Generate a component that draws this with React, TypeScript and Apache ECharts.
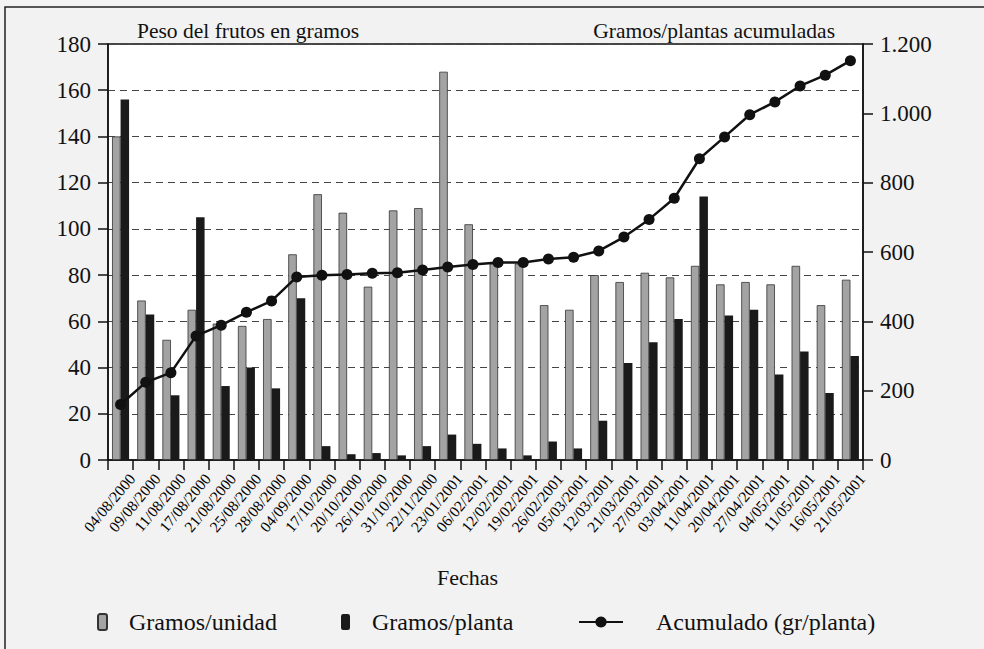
import React, { useEffect, useRef } from "react";
import * as echarts from "echarts";

const categories = [
  "04/08/2000", "09/08/2000", "11/08/2000", "17/08/2000", "21/08/2000", "25/08/2000",
  "28/08/2000", "04/09/2000", "17/10/2000", "20/10/2000", "26/10/2000", "31/10/2000",
  "22/11/2000", "23/01/2001", "06/02/2001", "12/02/2001", "19/02/2001", "26/02/2001",
  "05/03/2001", "12/03/2001", "21/03/2001", "27/03/2001", "03/04/2001", "11/04/2001",
  "20/04/2001", "27/04/2001", "04/05/2001", "11/05/2001", "16/05/2001", "21/05/2001",
];

const gramosUnidad = [
  140, 69, 52, 65, 59, 58, 61, 89, 115, 107, 75, 108, 109, 168, 102,
  85, 85, 67, 65, 80, 77, 81, 79, 84, 76, 77, 76, 84, 67, 78,
];

const gramosPlanta = [
  156, 63, 28, 105, 32, 40, 31, 70, 6, 2.5, 3, 2, 6, 11, 7,
  5, 2, 8, 5, 17, 42, 51, 61, 114, 62.5, 65, 37, 47, 29, 45,
];

const acumulado = [
  160, 224, 252, 358, 389, 426, 459, 528, 533, 535, 539, 540, 548, 557, 564,
  570, 570, 580, 585, 603, 643, 694, 755, 869, 932, 996, 1033, 1079, 1110, 1152,
];

const leftTicks = { min: 0, max: 180, interval: 20 };
const rightTicks = { min: 0, max: 1200, interval: 200 };

const FONT = "Liberation Serif, DejaVu Serif, serif";

export default function App() {
  const ref = useRef<HTMLDivElement>(null);
  useEffect(() => {
    if (!ref.current) return;
    const chart = echarts.init(ref.current, undefined, { renderer: "svg" });
    const fmtThousands = (v: number) =>
      String(v).replace(/\B(?=(\d{3})+(?!\d))/g, ".");
    chart.setOption({
      animation: false,
      backgroundColor: "#f2f2f2",
      textStyle: { fontFamily: FONT, color: "#111" },
      grid: {
        left: 108,
        right: 121,
        top: 44,
        bottom: 189,
        show: true,
        backgroundColor: "#ffffff",
        borderColor: "#111",
        borderWidth: 1.5,
      },
      title: [
        {
          text: "Peso del frutos en gramos",
          left: 137,
          top: 20,
          padding: 0,
          textStyle: { fontFamily: FONT, fontSize: 21.5, fontWeight: "normal", color: "#111" },
        },
        {
          text: "Gramos/plantas acumuladas",
          right: 149,
          top: 20,
          padding: 0,
          textStyle: { fontFamily: FONT, fontSize: 21.5, fontWeight: "normal", color: "#111" },
        },
        {
          text: "Fechas",
          left: 437,
          top: 566,
          padding: 0,
          textStyle: { fontFamily: FONT, fontSize: 22, fontWeight: "normal", color: "#111" },
        },
      ],
      legend: [
        {
          data: ["Gramos/unidad"],
          left: 97,
          top: 610,
          padding: 0,
          itemWidth: 9,
          itemHeight: 16,
          textStyle: { fontFamily: FONT, fontSize: 24, color: "#111", padding: [0, 0, 0, 17] },
        },
        {
          data: ["Gramos/planta"],
          left: 341,
          top: 610,
          padding: 0,
          itemWidth: 9,
          itemHeight: 16,
          textStyle: { fontFamily: FONT, fontSize: 24, color: "#111", padding: [0, 0, 0, 17] },
        },
        {
          data: ["Acumulado (gr/planta)"],
          left: 578,
          top: 610,
          padding: 0,
          itemWidth: 44,
          itemHeight: 14,
          textStyle: { fontFamily: FONT, fontSize: 24, color: "#111", padding: [0, 0, 0, 28] },
        },
      ],
      xAxis: {
        type: "category",
        data: categories,
        boundaryGap: true,
        axisLine: { lineStyle: { color: "#111", width: 1.5 } },
        axisTick: { show: true, length: 10, interval: 0, lineStyle: { color: "#111", width: 1.5 } },
        axisLabel: {
          interval: 0,
          rotate: 50,
          fontFamily: FONT,
          fontSize: 15.5,
          color: "#000",
          margin: 6,
          align: "right",
          verticalAlign: "top",
          padding: [7, 0, 0, 0],
        },
      },
      yAxis: [
        {
          type: "value",
          min: leftTicks.min,
          max: leftTicks.max,
          interval: leftTicks.interval,
          axisLine: { show: true, lineStyle: { color: "#111", width: 1.5 } },
          axisTick: { show: true, length: 10, lineStyle: { color: "#111", width: 1.5 } },
          axisLabel: { fontFamily: FONT, fontSize: 23, color: "#111", margin: 17 },
          splitLine: { show: true, lineStyle: { color: "#444", type: [7, 5], width: 1 } },
        },
        {
          type: "value",
          min: rightTicks.min,
          max: rightTicks.max,
          interval: rightTicks.interval,
          position: "right",
          axisLine: { show: true, lineStyle: { color: "#111", width: 1.5 } },
          axisTick: { show: true, length: 10, lineStyle: { color: "#111", width: 1.5 } },
          axisLabel: {
            fontFamily: FONT,
            fontSize: 23,
            color: "#111",
            margin: 17,
            formatter: (v: number) => fmtThousands(v),
          },
          splitLine: { show: false },
        },
      ],
      series: [
        {
          name: "Gramos/unidad",
          type: "bar",
          data: gramosUnidad,
          barWidth: 8.5,
          barGap: "0%",
          itemStyle: { color: "#a3a3a3", borderColor: "#333", borderWidth: 0.8 },
        },
        {
          name: "Gramos/planta",
          type: "bar",
          data: gramosPlanta,
          barWidth: 8.5,
          barGap: "0%",
          itemStyle: { color: "#1a1a1a" },
        },
        {
          name: "Acumulado (gr/planta)",
          type: "line",
          yAxisIndex: 1,
          data: acumulado,
          symbol: "circle",
          symbolSize: 11,
          z: 5,
          lineStyle: { color: "#111", width: 2.5 },
          itemStyle: { color: "#111" },
        },
      ],
      graphic: [
        {
          type: "rect",
          shape: { x: 5, y: 7, width: 1000, height: 700 },
          style: { fill: "none", stroke: "#222", lineWidth: 1.5 },
          silent: true,
        },
      ],
    });
    return () => chart.dispose();
  }, []);
  return (
    <div
      ref={ref}
      style={{ position: "absolute", left: 0, top: 0, width: 984, height: 649 }}
    />
  );
}
